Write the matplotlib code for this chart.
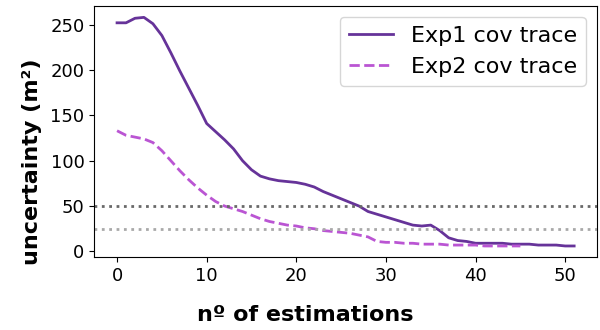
import numpy as np
import matplotlib
matplotlib.use('Agg')
from matplotlib import pyplot as plt

# trace of the covariance after each estimation
exp1_trace = [252, 252, 257, 258, 251, 238, 219, 199, 180, 161,
              141, 132, 123, 113, 100, 90, 83, 80, 78, 77,
              76, 74, 71, 66, 62, 58, 54, 50, 44, 41,
              38, 35, 32, 29, 28, 29, 23, 15, 12, 11,
              9, 9, 9, 9, 8, 8, 8, 7, 7, 7,
              6, 6]
exp2_trace = [133, 128, 126, 124, 120, 111, 100, 89, 79, 70,
              62, 55, 50, 47, 44, 40, 36, 33, 31, 29,
              28, 26, 25, 23, 22, 21, 20, 18, 16, 11,
              10, 10, 9, 9, 8, 8, 8, 7, 7, 7,
              7, 6, 6, 6, 6, 6]
thresholds = [50, 25]

fig, ax = plt.subplots(figsize=(6, 3.3), dpi=100)
ax.plot(np.arange(len(exp1_trace)), exp1_trace, color='rebeccapurple', lw=2, label='Exp1 cov trace')
ax.plot(np.arange(len(exp2_trace)), exp2_trace, color='mediumorchid', lw=2, ls='--', label='Exp2 cov trace')
ax.axhline(thresholds[0], color='dimgray', ls=':', lw=2)
ax.axhline(thresholds[1], color='darkgray', ls=':', lw=2)

ax.set_xlabel('nº of estimations', fontsize=16, fontweight='bold', labelpad=14, x=0.42)
ax.set_ylabel('uncertainty (m²)', fontsize=16, fontweight='bold', labelpad=6, y=0.38)
ax.tick_params(labelsize=13)
ax.legend(fontsize=16, loc='upper right')

plt.subplots_adjust(left=0.157, right=0.995, top=0.982, bottom=0.22)
plt.savefig('out.png')
